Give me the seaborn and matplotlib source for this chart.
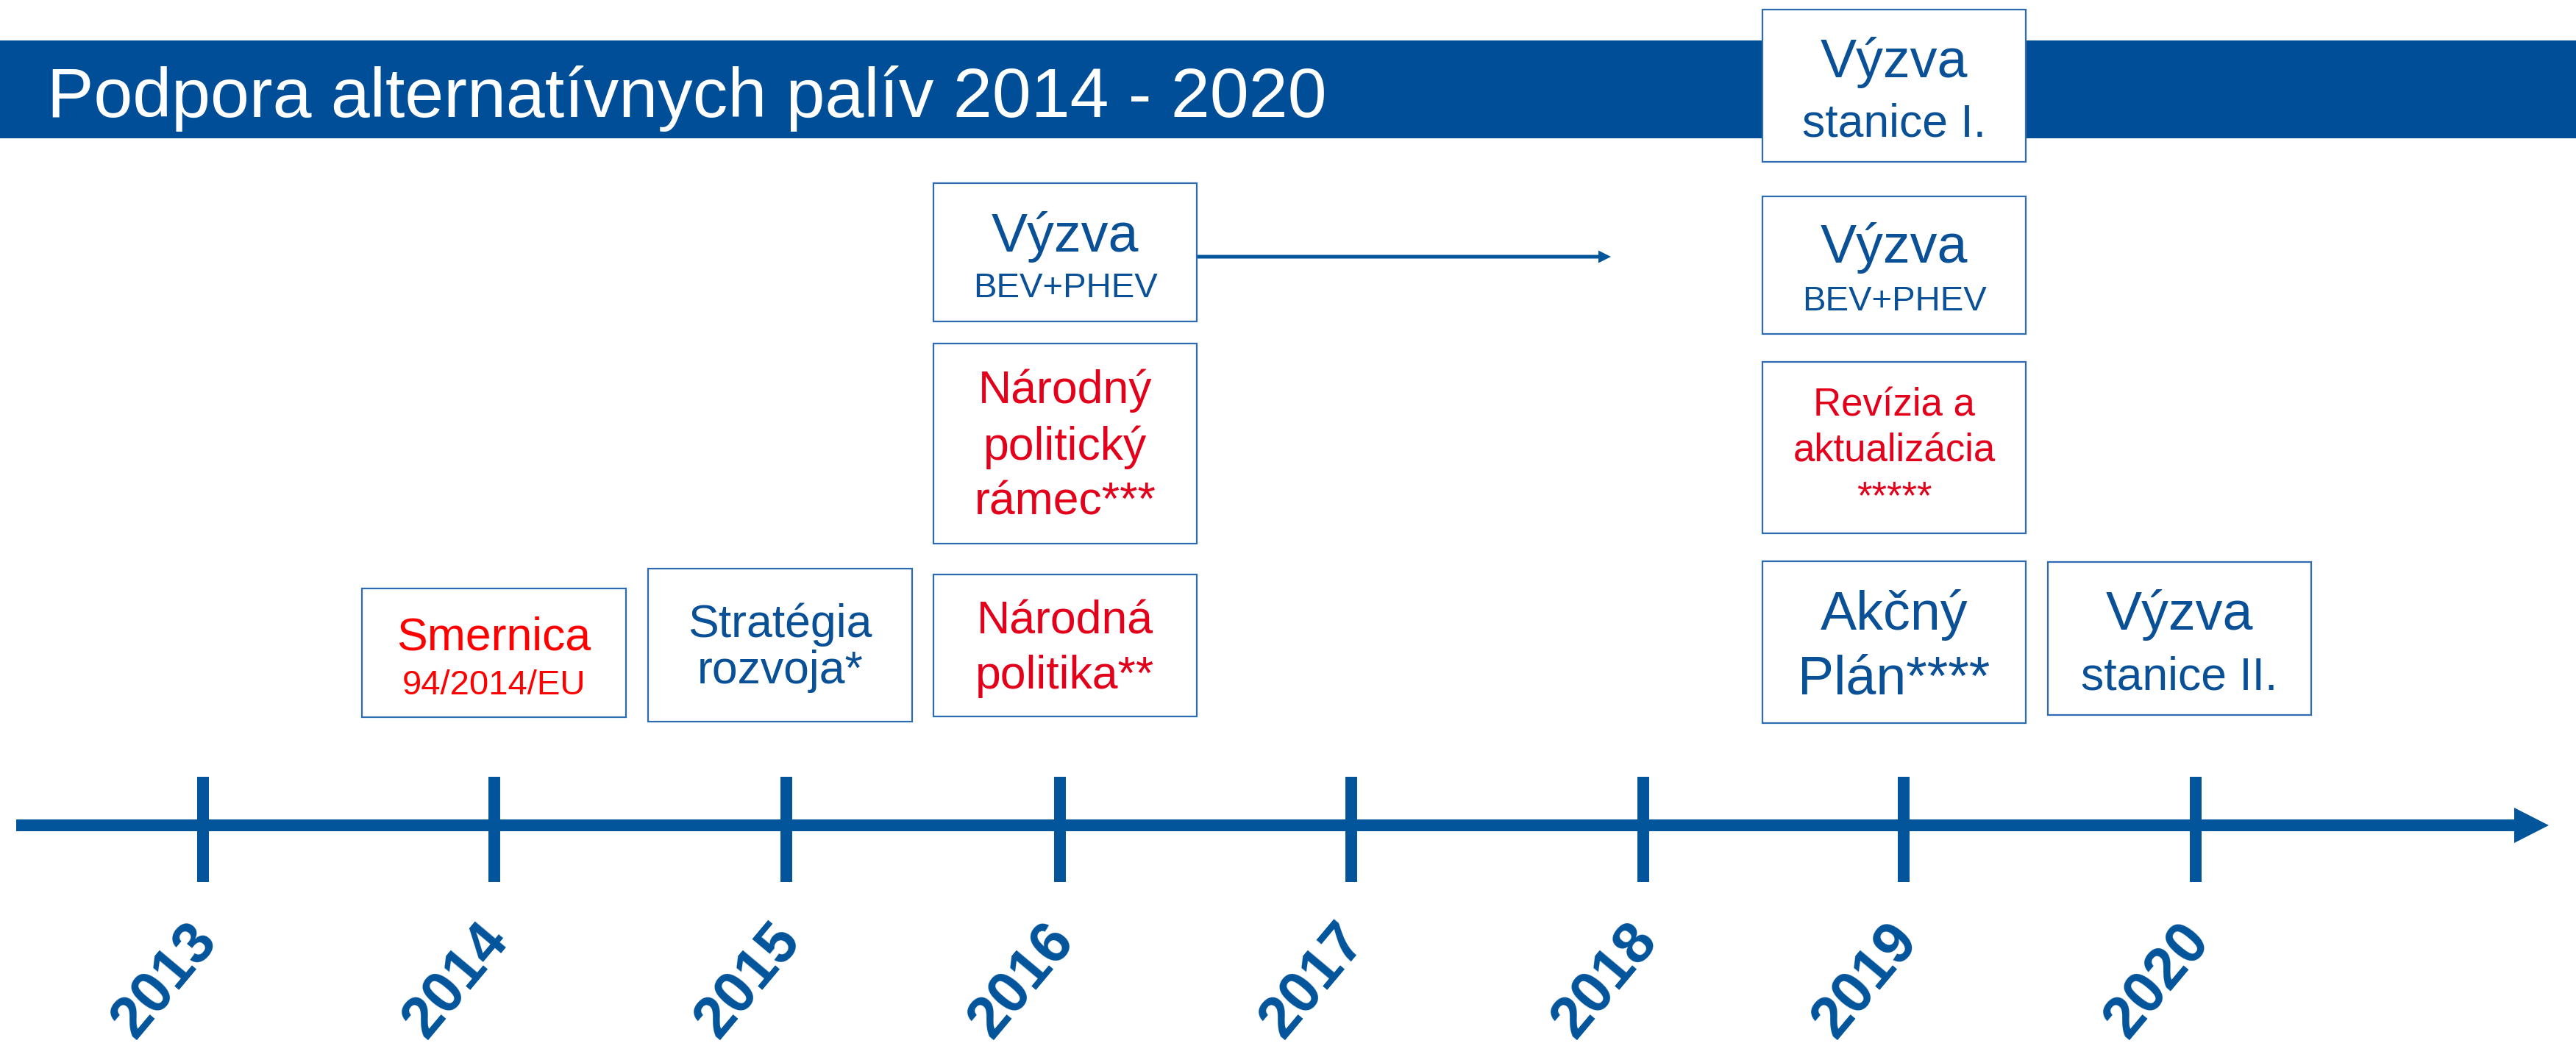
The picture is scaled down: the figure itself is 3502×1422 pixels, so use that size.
import matplotlib
matplotlib.use("Agg")
from matplotlib import pyplot as plt
from matplotlib.patches import Rectangle
import seaborn as sns

# Timeline data
years = [2013, 2014, 2015, 2016, 2017, 2018, 2019, 2020]
title = "Podpora alternatívnych palív 2014 - 2020"

event_lines = [
    ["Smernica", "94/2014/EU"],
    ["Stratégia", "rozvoja*"],
    ["Národná", "politika**"],
    ["Národný", "politický", "rámec***"],
    ["Výzva", "BEV+PHEV"],
    ["Výzva", "stanice I."],
    ["Výzva", "BEV+PHEV"],
    ["Revízia a", "aktualizácia", "*****"],
    ["Akčný", "Plán****"],
    ["Výzva", "stanice II."],
]
event_kind = ["eu", "plan", "policy", "policy", "call", "call", "call", "policy", "plan", "call"]

# Layout (pixels, figure is 3502 x 1422)
W, H = 3502, 1422
tick_x = [276, 672, 1069, 1441, 1837, 2234, 2588, 2985]
box_rects = [
    (492, 800, 851, 975),
    (881, 773, 1240, 981),
    (1269, 781, 1627, 974),
    (1269, 467, 1627, 739),
    (1269, 249, 1627, 437),
    (2396, 13, 2754, 220),
    (2396, 267, 2754, 454),
    (2396, 492, 2754, 725),
    (2396, 763, 2754, 983),
    (2784, 764, 3142, 972),
]
box_baselines = [
    [883, 944], [866, 929], [861, 936], [548, 625, 700], [342, 404],
    [105, 185], [357, 422], [565, 628, 691], [856, 944], [856, 937],
]
box_sizes = [
    [45, 34], [45, 45], [45, 45], [45, 45, 45], [53, 34],
    [53, 45], [53, 34], [38, 38, 38], [53, 53], [53, 45],
]
kind_color = {"eu": "#FF0000", "policy": "#E3001B", "plan": "#0A5096", "call": "#0A5096"}

blue = "#02549B"
bar_blue = "#004E98"
edge_blue = "#2F6BB0"

sns.set_theme(style="white")
plt.rcParams["font.family"] = ["Liberation Sans", "DejaVu Sans"]

fig = plt.figure(figsize=(W / 100, H / 100), dpi=100)
ax = fig.add_axes([0, 0, 1, 1])
ax.set_xlim(0, W)
ax.set_ylim(H, 0)
ax.axis("off")

# title bar
ax.add_patch(Rectangle((0, 55), W, 133, facecolor=bar_blue, edgecolor="none", zorder=1))
ax.text(64, 159, title, color="white", fontsize=68.5, va="baseline", ha="left", zorder=2)

# main timeline with arrow
ax.arrow(22, 1122, 3443, 0, width=16, head_width=48, head_length=47,
         length_includes_head=True, color=blue, lw=0, zorder=2)
ax.vlines(tick_x, 1056, 1199, color=blue, lw=11.5, zorder=2)
for x, yr in zip(tick_x, years):
    ax.text(x - 52, 1334, str(yr), rotation=50, rotation_mode="anchor",
            ha="center", va="center", fontsize=57, fontweight="bold", color=blue)

# event boxes
for rect, lines, bases, sizes, kind in zip(box_rects, event_lines, box_baselines, box_sizes, event_kind):
    x0, y0, x1, y1 = rect
    ax.add_patch(Rectangle((x0, y0), x1 - x0, y1 - y0, facecolor="white",
                           edgecolor=edge_blue, lw=1.6, zorder=3))
    for txt, b, s in zip(lines, bases, sizes):
        ax.text((x0 + x1) / 2, b, txt, ha="center", va="baseline", fontsize=s,
                color=kind_color[kind], zorder=4)

# arrow from 2016 call
ax.arrow(1627, 349, 563, 0, width=5, head_width=17, head_length=17,
         length_includes_head=True, color=blue, lw=0, zorder=2)

fig.savefig("out.png", dpi=100)
